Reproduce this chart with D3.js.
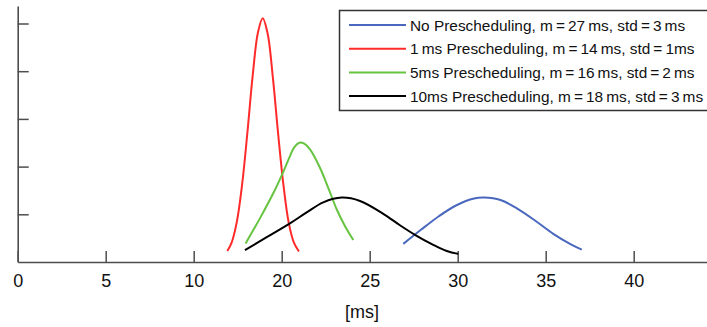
<!DOCTYPE html>
<html>
<head>
<meta charset="utf-8">
<script src="https://cdn.jsdelivr.net/npm/d3@7"></script>
<style>
  body { margin: 0; background: #fff; }
  svg { display: block; font-family: "Liberation Sans", Arial, sans-serif; }
</style>
</head>
<body>
<svg id="chart" width="707" height="327"></svg>
<script>
  // ---------------- data (x in ms, y in tick units) ----------------
  const seriesNames = [
    "No Prescheduling, m\u2009=\u200927\u2009ms, std\u2009=\u20093\u2009ms",
    "1\u2009ms Prescheduling, m\u2009=\u200914\u2009ms, std\u2009=\u20091ms",
    "5ms Prescheduling, m\u2009=\u200916\u2009ms, std\u2009=\u20092\u2009ms",
    "10ms Prescheduling, m\u2009=\u200918\u2009ms, std\u2009=\u20093\u2009ms"
  ];
  const seriesColors = ["#4a68bd", "#ff2b2b", "#66c440", "#000000"];

  const noPresched = [
    [21.91, 0.38], [22.93, 0.68], [23.93, 0.96], [24.93, 1.19], [25.93, 1.33], [26.51, 1.35],
    [27.43, 1.30], [28.43, 1.11], [29.43, 0.86], [30.43, 0.59], [31.43, 0.37], [32.05, 0.26]
  ];
  const presched1 = [
    [11.91, 0.23], [12.15, 0.40], [12.45, 0.84], [12.75, 1.62], [13.05, 2.71], [13.35, 3.90],
    [13.65, 4.81], [13.92, 5.11], [14.20, 4.79], [14.50, 3.86], [14.80, 2.68], [15.10, 1.61],
    [15.40, 0.82], [15.70, 0.40], [15.98, 0.22]
  ];
  const presched5 = [
    [12.95, 0.39], [13.77, 0.92], [14.52, 1.44], [15.09, 1.89], [15.47, 2.22], [15.72, 2.41],
    [16.00, 2.50], [16.28, 2.48], [16.61, 2.36], [17.18, 1.97], [17.65, 1.55], [18.13, 1.10],
    [18.60, 0.75], [19.07, 0.46]
  ];
  const presched10 = [
    [12.91, 0.25], [14.15, 0.52], [15.47, 0.81], [16.42, 1.04], [17.36, 1.25], [18.41, 1.35],
    [19.45, 1.28], [20.77, 1.01], [21.72, 0.77], [22.57, 0.57], [23.61, 0.36], [24.38, 0.23],
    [25.03, 0.17]
  ];
  const allSeries = [noPresched, presched1, presched5, presched10];

  // the original axis skips "15" in its labels
  const xTickValues = [0, 5, 10, 15, 20, 25, 30, 35];
  const xTickLabels = ["0", "5", "10", "20", "25", "30", "35", "40"];
  const yTickValues = [1, 2, 3, 4, 5];

  const svg = d3.select("#chart");
  const width = +svg.attr("width");
  const height = +svg.attr("height");
  const margin = { top: 6, right: 0, bottom: 65, left: 17.7 };
  const innerWidth = width - margin.left - margin.right;
  const innerHeight = height - margin.top - margin.bottom;

  const g = svg.append("g")
    .attr("transform", `translate(${margin.left}, ${margin.top})`);

  const x = d3.scaleLinear()
    .domain([0, innerWidth / 17.6])
    .range([0, innerWidth]);

  const y = d3.scaleLinear()
    .domain([0, innerHeight / 47.7])
    .range([innerHeight, 0]);

  // ---------------- axes ----------------
  const xAxis = g.append("g")
    .attr("transform", `translate(0, ${innerHeight})`)
    .call(d3.axisBottom(x)
      .tickValues(xTickValues)
      .tickFormat((d, i) => xTickLabels[i])
      .tickSize(-11)
      .tickSizeOuter(0)
      .tickPadding(12));

  const yAxis = g.append("g")
    .call(d3.axisLeft(y)
      .tickValues(yTickValues)
      .tickFormat("")
      .tickSize(-11)
      .tickSizeOuter(0));

  [xAxis, yAxis].forEach(a => {
    a.select(".domain").attr("stroke", "#4d4d4d").attr("stroke-width", 1.6);
    a.selectAll(".tick line").attr("stroke", "#4d4d4d").attr("stroke-width", 1.5);
  });
  xAxis.selectAll(".tick text")
    .attr("fill", "#111")
    .style("font-size", "18px");

  svg.append("text")
    .attr("x", 362)
    .attr("y", 318)
    .attr("text-anchor", "middle")
    .style("font-size", "18px")
    .attr("fill", "#111")
    .text("[ms]");

  // ---------------- curves ----------------
  const line = d3.line()
    .x(d => x(d[0]))
    .y(d => y(d[1]))
    .curve(d3.curveCatmullRom.alpha(0.5));

  g.selectAll(".curve")
    .data(allSeries)
    .enter()
    .append("path")
    .attr("class", "curve")
    .attr("fill", "none")
    .attr("stroke", (d, i) => seriesColors[i])
    .attr("stroke-width", 2)
    .attr("d", line);

  // ---------------- legend ----------------
  const legend = svg.append("g");
  legend.append("rect")
    .attr("x", 339.5)
    .attr("y", 10.5)
    .attr("width", 420)
    .attr("height", 100)
    .attr("fill", "#fff")
    .attr("stroke", "#333")
    .attr("stroke-width", 1.5);

  const rows = legend.selectAll(".row")
    .data(seriesNames)
    .enter()
    .append("g")
    .attr("class", "row")
    .attr("transform", (d, i) => `translate(0, ${25 + i * 23.7})`);

  rows.append("line")
    .attr("x1", 349)
    .attr("x2", 406)
    .attr("stroke", (d, i) => seriesColors[i])
    .attr("stroke-width", 2);

  rows.append("text")
    .attr("x", 410)
    .attr("dy", "0.36em")
    .style("font-size", "15.4px")
    .attr("fill", "#111")
    .text(d => d);
</script>
</body>
</html>
